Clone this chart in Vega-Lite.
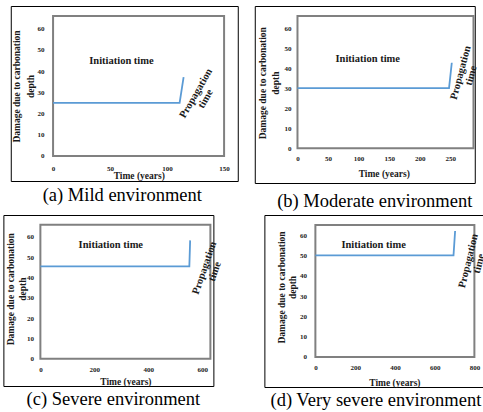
{
  "$schema": "https://vega.github.io/schema/vega-lite/v6.json",
  "padding": {"left": 2, "top": 5, "right": 0, "bottom": 0},
  "background": "white",
  "bounds": "full",
  "center": true,
  "spacing": 3,
  "config": {
    "view": {"stroke": "black", "strokeWidth": 1, "fill": "white"},
    "axis": {"grid": false, "domain": false, "ticks": false, "tickSize": 0, "labelFont": "Liberation Serif", "labelFontWeight": "bold", "labelFontSize": 7, "labelColor": "#1a1a1a", "titleFont": "Liberation Serif", "titleFontWeight": "bold", "titleFontSize": 9.5, "titleColor": "#1a1a1a", "labelFlush": false, "labelOverlap": false, "titleLineHeight": 13.5},
    "title": {"font": "Liberation Serif", "fontSize": 18.5, "fontWeight": "normal", "color": "black", "orient": "bottom", "anchor": "middle"},
    "text": {"font": "Liberation Serif", "fontWeight": "bold", "color": "#1a1a1a"}
  },
  "vconcat": [
    {
      "bounds": "flush",
      "spacing": 17,
      "hconcat": [
        {
          "width": 227, "height": 175,
          "title": {"text": "(a) Mild environment", "offset": 5, "dx": -2},
          "encoding": {
            "x": {"field": "time", "type": "quantitative", "scale": {"domain": [-37.1, 162], "nice": false, "zero": false},
                  "axis": {"values": [0, 50, 100, 150], "offset": -25, "labelPadding": 8, "title": "Time (years)", "titleX": 128, "titleY": 19, "titleBaseline": "middle", "titleAlign": "center"}},
            "y": {"field": "damage", "type": "quantitative", "scale": {"domain": [-11.8, 70.7], "nice": false, "zero": false},
                  "axis": {"values": [0, 10, 20, 30, 40, 50, 60], "offset": -42.3, "labelPadding": 9, "title": ["Damage due to carbonation", "depth"], "titleX": -36.3, "titleY": 80, "titleBaseline": "middle", "titleAlign": "center", "titleAngle": 270, "titleLineHeight": 13.5}}
          },
          "layer": [
            {"data": {"values": [{"time": 0, "time_end": 150, "damage": 0, "damage_end": 66}]},
             "mark": {"type": "rect", "filled": false, "color": "#808080", "stroke": "#808080", "strokeWidth": 2},
             "encoding": {"x2": {"field": "time_end"}, "y2": {"field": "damage_end"}}},
            {"data": {"values": [{"time": 0, "damage": 25}, {"time": 111, "damage": 25}, {"time": 114.5, "damage": 37.2}]},
             "mark": {"type": "line", "color": "#5b9bd5", "strokeWidth": 1.8}},
            {"data": {"values": [{"time": 60, "damage": 44.8, "label": "Initiation time"}]},
             "mark": {"type": "text", "fontSize": 10.5, "align": "center", "baseline": "middle"},
             "encoding": {"text": {"field": "label"}}},
            {"data": {"values": [{"time": 125.4, "damage": 29.5, "label": "Propagation\ntime"}]},
             "mark": {"type": "text", "fontSize": 10.5, "align": "center", "baseline": "middle", "angle": 300, "lineBreak": "\n", "lineHeight": 11},
             "encoding": {"text": {"field": "label"}}}
          ]
        },
        {
          "width": 220, "height": 177,
          "title": {"text": "(b) Moderate environment", "offset": 9, "dx": 10},
          "encoding": {
            "x": {"field": "time", "type": "quantitative", "scale": {"domain": [-69.9, 290.1], "nice": false, "zero": false},
                  "axis": {"values": [0, 50, 100, 150, 200, 250], "offset": -34.7, "labelPadding": 6, "title": "Time (years)", "titleX": 129, "titleY": 25.4, "titleBaseline": "middle", "titleAlign": "center"}},
            "y": {"field": "damage", "type": "quantitative", "scale": {"domain": [-17.3, 71.0], "nice": false, "zero": false},
                  "axis": {"values": [0, 10, 20, 30, 40, 50, 60], "offset": -42.7, "labelPadding": 6.5, "title": ["Damage due to carbonation", "depth"], "titleX": -35, "titleY": 76.7, "titleBaseline": "middle", "titleAlign": "center", "titleAngle": 270, "titleLineHeight": 13}}
          },
          "layer": [
            {"data": {"values": [{"time": 0, "time_end": 288, "damage": 0, "damage_end": 66}]},
             "mark": {"type": "rect", "filled": false, "color": "#808080", "stroke": "#808080", "strokeWidth": 2},
             "encoding": {"x2": {"field": "time_end"}, "y2": {"field": "damage_end"}}},
            {"data": {"values": [{"time": 0, "damage": 30}, {"time": 248, "damage": 30}, {"time": 252.5, "damage": 42.7}]},
             "mark": {"type": "line", "color": "#5b9bd5", "strokeWidth": 1.8}},
            {"data": {"values": [{"time": 115, "damage": 44.5, "label": "Initiation time"}]},
             "mark": {"type": "text", "fontSize": 10.5, "align": "center", "baseline": "middle"},
             "encoding": {"text": {"field": "label"}}},
            {"data": {"values": [{"time": 267, "damage": 37.7, "label": "Propagation\ntime"}]},
             "mark": {"type": "text", "fontSize": 10.5, "align": "center", "baseline": "middle", "angle": 285, "lineBreak": "\n", "lineHeight": 11},
             "encoding": {"text": {"field": "label"}}}
          ]
        }
      ]
    },
    {
      "bounds": "flush",
      "spacing": 51,
      "hconcat": [
        {
          "width": 210, "height": 171,
          "title": {"text": "(c) Severe environment", "offset": 4, "dx": 5},
          "encoding": {
            "x": {"field": "time", "type": "quantitative", "scale": {"domain": [-137.1, 641.1], "nice": false, "zero": false},
                  "axis": {"values": [0, 200, 400, 600], "offset": -27.3, "labelPadding": 6.5, "title": "Time (years)", "titleX": 122, "titleY": 22.6, "titleBaseline": "middle", "titleAlign": "center"}},
            "y": {"field": "damage", "type": "quantitative", "scale": {"domain": [-13.4, 70.8], "nice": false, "zero": false},
                  "axis": {"values": [0, 10, 20, 30, 40, 50, 60], "offset": -37, "labelPadding": 7, "title": ["Damage due to carbonation", "depth"], "titleX": -30, "titleY": 73.7, "titleBaseline": "middle", "titleAlign": "center", "titleAngle": 270, "titleLineHeight": 12.5}}
          },
          "layer": [
            {"data": {"values": [{"time": 0, "time_end": 630, "damage": 0, "damage_end": 66}]},
             "mark": {"type": "rect", "filled": false, "color": "#808080", "stroke": "#808080", "strokeWidth": 2},
             "encoding": {"x2": {"field": "time_end"}, "y2": {"field": "damage_end"}}},
            {"data": {"values": [{"time": 0, "damage": 45.5}, {"time": 552, "damage": 45.5}, {"time": 555, "damage": 58.3}]},
             "mark": {"type": "line", "color": "#5b9bd5", "strokeWidth": 1.8}},
            {"data": {"values": [{"time": 261, "damage": 56.2, "label": "Initiation time"}]},
             "mark": {"type": "text", "fontSize": 10.5, "align": "center", "baseline": "middle"},
             "encoding": {"text": {"field": "label"}}},
            {"data": {"values": [{"time": 608, "damage": 44.7, "label": "Propagation\ntime"}]},
             "mark": {"type": "text", "fontSize": 10.5, "align": "center", "baseline": "middle", "angle": 289, "lineBreak": "\n", "lineHeight": 11},
             "encoding": {"text": {"field": "label"}}}
          ]
        },
        {
          "width": 220, "height": 172,
          "title": {"text": "(d) Very severe environment", "offset": 4, "dx": 1.5},
          "encoding": {
            "x": {"field": "time", "type": "quantitative", "scale": {"domain": [-256.6, 850.3], "nice": false, "zero": false},
                  "axis": {"values": [0, 200, 400, 600, 800], "offset": -30, "labelPadding": 6.5, "title": "Time (years)", "titleX": 130, "titleY": 25, "titleBaseline": "middle", "titleAlign": "center"}},
            "y": {"field": "damage", "type": "quantitative", "scale": {"domain": [-14.8, 69.9], "nice": false, "zero": false},
                  "axis": {"values": [0, 10, 20, 30, 40, 50, 60], "offset": -51, "labelPadding": 9, "title": ["Damage due to carbonation", "depth"], "titleX": -34, "titleY": 72, "titleBaseline": "middle", "titleAlign": "center", "titleAngle": 270, "titleLineHeight": 11.5}}
          },
          "layer": [
            {"data": {"values": [{"time": 0, "time_end": 800, "damage": 0, "damage_end": 65}]},
             "mark": {"type": "rect", "filled": false, "color": "#808080", "stroke": "#808080", "strokeWidth": 2},
             "encoding": {"x2": {"field": "time_end"}, "y2": {"field": "damage_end"}}},
            {"data": {"values": [{"time": 0, "damage": 50}, {"time": 695, "damage": 50}, {"time": 703, "damage": 62}]},
             "mark": {"type": "line", "color": "#5b9bd5", "strokeWidth": 1.8}},
            {"data": {"values": [{"time": 293, "damage": 55.1, "label": "Initiation time"}]},
             "mark": {"type": "text", "fontSize": 10.5, "align": "center", "baseline": "middle"},
             "encoding": {"text": {"field": "label"}}},
            {"data": {"values": [{"time": 770, "damage": 47.3, "label": "Propagation\ntime"}]},
             "mark": {"type": "text", "fontSize": 10.5, "align": "center", "baseline": "middle", "angle": 284, "lineBreak": "\n", "lineHeight": 11},
             "encoding": {"text": {"field": "label"}}}
          ]
        }
      ]
    }
  ]
}
